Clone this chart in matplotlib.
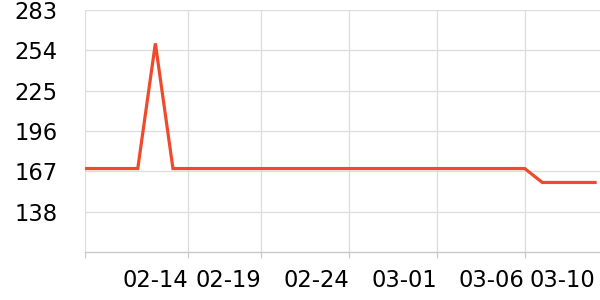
import matplotlib
matplotlib.use("Agg")
import matplotlib.pyplot as plt
import numpy as np

# daily values, 02-09 .. 03-10
dates = ["02-09", "02-10", "02-11", "02-12", "02-13", "02-14", "02-15", "02-16",
         "02-17", "02-18", "02-19", "02-20", "02-21", "02-22", "02-23", "02-24",
         "02-25", "02-26", "02-27", "02-28", "03-01", "03-02", "03-03", "03-04",
         "03-05", "03-06", "03-07", "03-08", "03-09", "03-10"]
values = [169, 169, 169, 169, 259, 169, 169, 169, 169, 169,
          169, 169, 169, 169, 169, 169, 169, 169, 169, 169,
          169, 169, 169, 169, 169, 169, 159, 159, 159, 159]

tick_pos = [5.86, 10, 15, 20, 25, 29]
tick_labels = ["02-14", "02-19", "02-24", "03-01", "03-06", "03-10"]
y_ticks = [138, 167, 196, 225, 254, 283]

x = np.arange(len(dates))

fig = plt.figure(figsize=(6, 3), dpi=100)
ax = fig.add_axes([85 / 600, 48 / 300, 515 / 600, 242 / 300])

grid_c = "#dcdcdc"
ax.plot(x, values, color="#ef4a2b", lw=2.3, solid_joinstyle="miter", zorder=3)

ax.set_xlim(0, 29.28)
ax.set_ylim(109, 283)
ax.set_yticks(y_ticks)
ax.set_xticks([0] + tick_pos)
ax.set_xticklabels([""] + tick_labels, ha="right")
ax.grid(True, color=grid_c, lw=0.9)

for s in ["top", "right", "left"]:
    ax.spines[s].set_visible(False)
ax.spines["bottom"].set_color("#c8c8c8")
ax.spines["bottom"].set_linewidth(1.0)

ax.tick_params(axis="y", length=0, pad=20, labelsize=16.3)
ax.tick_params(axis="x", length=4, color="#c8c8c8", pad=8, labelsize=16.3)

# last date label has no grid line / tick mark
last = ax.xaxis.get_major_ticks()[-1]
last.gridline.set_visible(False)
last.tick1line.set_visible(False)

fig.savefig("out.png", dpi=100)
